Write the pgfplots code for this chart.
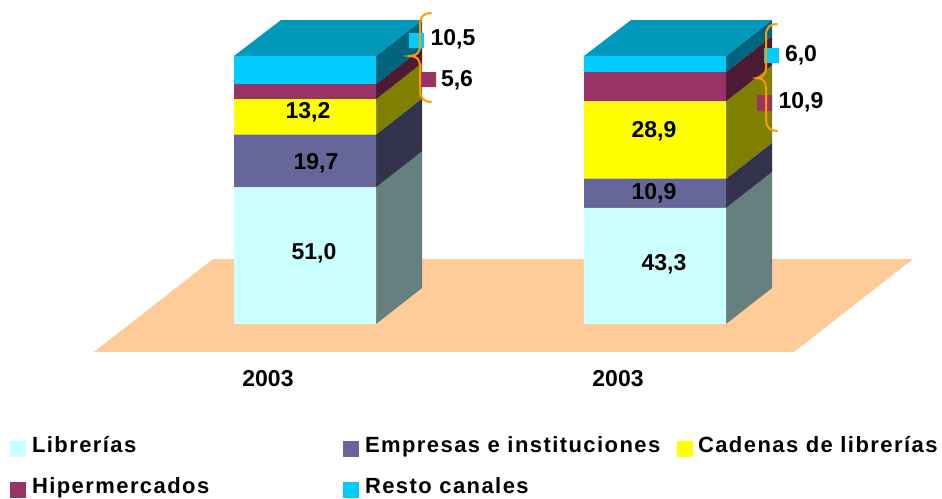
\documentclass[border=0pt]{standalone}
\usepackage{pgfplots}
\pgfplotsset{compat=1.18}
\usepackage{fontspec}
\setmainfont{Liberation Sans}
\newfontfamily\legfont[LetterSpace=6.5]{Liberation Sans}
\definecolor{cLib}{HTML}{CCFFFF}\definecolor{sLib}{HTML}{668080}
\definecolor{cEmp}{HTML}{666699}\definecolor{sEmp}{HTML}{33334D}
\definecolor{cCad}{HTML}{FFFF00}\definecolor{sCad}{HTML}{808000}
\definecolor{cHip}{HTML}{993366}\definecolor{sHip}{HTML}{4D1A33}
\definecolor{cRes}{HTML}{00CCFF}\definecolor{sRes}{HTML}{006680}
\definecolor{cTop}{HTML}{0099BB}\definecolor{cFloor}{HTML}{FFCC99}
\definecolor{cBrace}{HTML}{FF9900}
\newcommand{\lbl}{\fontsize{23}{27}\selectfont\bfseries}
\newcommand{\leg}{\legfont\fontsize{22}{26}\selectfont\bfseries}
\newcommand{\legcell}[3][4pt]{\makebox[#2][l]{\hspace*{#1}#3}}
\pgfplotsset{
  base/.style={at={(0,0)},anchor=south west,scale only axis,width=942pt,height=498pt,
    hide axis,clip=false,xmin=0,xmax=942,ymin=-64.9254,ymax=120.8955},
  face/.style={fill=#1,draw=none,forget plot}
}
\begin{document}
\begin{tikzpicture}
\useasboundingbox (0,0) rectangle (942pt,498pt);
% floor, side faces and top faces: x in px, y in percent, depth 46 px / 13.43 units
\begin{axis}[base]
\addplot[face=cFloor] coordinates {(94,-10.45)(794,-10.45)(913,24.25)(213,24.25)(94,-10.45)};
% first column
\addplot[face=sLib] coordinates {(376,0)(422,13.43)(422,64.43)(376,51)(376,0)};
\addplot[face=sEmp] coordinates {(376,51)(422,64.43)(422,84.13)(376,70.7)(376,51)};
\addplot[face=sCad] coordinates {(376,70.7)(422,84.13)(422,97.33)(376,83.9)(376,70.7)};
\addplot[face=sHip] coordinates {(376,83.9)(422,97.33)(422,102.93)(376,89.5)(376,83.9)};
\addplot[face=sRes] coordinates {(376,89.5)(422,102.93)(422,113.43)(376,100)(376,89.5)};
\addplot[face=cTop] coordinates {(234,100)(376,100)(422,113.43)(281,113.43)(234,100)};
% second column
\addplot[face=sLib] coordinates {(726,0)(772,13.43)(772,56.73)(726,43.3)(726,0)};
\addplot[face=sEmp] coordinates {(726,43.3)(772,56.73)(772,67.63)(726,54.2)(726,43.3)};
\addplot[face=sCad] coordinates {(726,54.2)(772,67.63)(772,96.53)(726,83.1)(726,54.2)};
\addplot[face=sHip] coordinates {(726,83.1)(772,96.53)(772,107.43)(726,94)(726,83.1)};
\addplot[face=sRes] coordinates {(726,94)(772,107.43)(772,113.43)(726,100)(726,94)};
\addplot[face=cTop] coordinates {(584,100)(726,100)(772,113.43)(631,113.43)(584,100)};
\end{axis}
% front faces
\begin{axis}[base,ybar stacked,bar width=142pt,
  legend cell align=left,
  legend columns=3,
  legend image code/.code={\fill[#1,draw=none] (0pt,-12pt) rectangle (16pt,4pt);},
  legend style={draw=none,fill=none,at={(axis cs:10,-41.2)},anchor=north west,
    font=\leg,inner sep=0pt,outer sep=0pt,
    /tikz/row sep=18pt}
]
\addplot[fill=cLib,draw=none] coordinates {(305,51.0)(655,43.3)};
\addplot[fill=cEmp,draw=none] coordinates {(305,19.7)(655,10.9)};
\addplot[fill=cCad,draw=none] coordinates {(305,13.2)(655,28.9)};
\addplot[fill=cHip,draw=none] coordinates {(305,5.6)(655,10.9)};
\addplot[fill=cRes,draw=none] coordinates {(305,10.5)(655,6.0)};
\legend{\legcell{313pt}{Librerías},\legcell{314pt}{Empresas e instituciones},\legcell[3pt]{244pt}{Cadenas de librerías},\legcell{313pt}{Hipermercados},\legcell{314pt}{Resto canales}}
\end{axis}
% annotations in pixel coordinates
\begin{axis}[base,ymin=0,ymax=498,y dir=reverse]
\addplot[face=cHip] coordinates {(421,72)(436,72)(436,87)(421,87)(421,72)};
\addplot[face=cHip] coordinates {(757,95)(772,95)(772,111)(757,111)(757,95)};
\addplot[face=cRes] coordinates {(409,33)(424,33)(424,48)(409,48)(409,33)};
\addplot[face=cRes] coordinates {(764,48)(779,48)(779,63)(764,63)(764,48)};
\draw[cBrace,line width=2pt,line cap=round]
  (axis cs:431,13) .. controls (axis cs:424,13) and (axis cs:420,16) .. (axis cs:420,26)
  -- (axis cs:420,46) .. controls (axis cs:420,53) and (axis cs:416,56) .. (axis cs:410,56)
  .. controls (axis cs:416,56) and (axis cs:420,59) .. (axis cs:420,66)
  -- (axis cs:420,90) .. controls (axis cs:420,98) and (axis cs:424,102) .. (axis cs:431,102);
\draw[cBrace,line width=2pt,line cap=round]
  (axis cs:777,24) .. controls (axis cs:770,24) and (axis cs:766,27) .. (axis cs:766,36)
  -- (axis cs:766,68) .. controls (axis cs:766,74) and (axis cs:762,78) .. (axis cs:757,78)
  .. controls (axis cs:762,78) and (axis cs:766,81) .. (axis cs:766,88)
  -- (axis cs:766,120) .. controls (axis cs:766,127) and (axis cs:770,131) .. (axis cs:777,131);
\foreach \x/\y/\t in {314/253/{51,0},316/163/{19,7},308/112/{13,2},453/39/{10,5},457/80/{5,6},
  664/264/{43,3},654/193/{10,9},654/131/{28,9},801/55/{6,0},801/102/{10,9},268/379/2003,618/379/2003}{
  \edef\temp{\noexpand\node[font=\noexpand\lbl,inner sep=0pt] at (axis cs:\x,\y) {\t};}\temp
}
\end{axis}
\end{tikzpicture}
\end{document}
